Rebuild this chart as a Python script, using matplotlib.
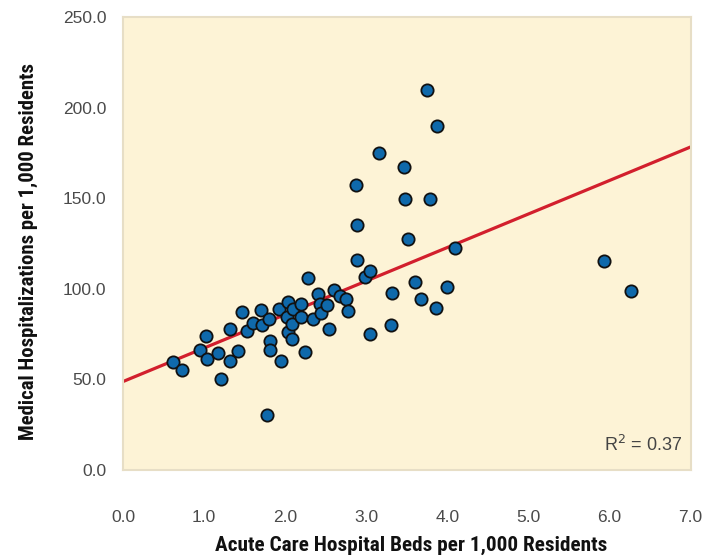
import matplotlib.pyplot as plt
import numpy as np
from matplotlib import font_manager

# beds per 1,000 residents vs. medical hospitalizations per 1,000 residents
beds = [0.62, 0.73, 0.95, 1.02, 1.03, 1.17, 1.21, 1.32, 1.32, 1.42,
        1.47, 1.53, 1.60, 1.70, 1.72, 1.77, 1.80, 1.81, 1.81, 1.92,
        1.95, 2.02, 2.03, 2.03, 2.08, 2.09, 2.10, 2.19, 2.20, 2.24,
        2.28, 2.34, 2.41, 2.43, 2.44, 2.52, 2.54, 2.60, 2.67, 2.75,
        2.77, 2.87, 2.88, 2.88, 2.98, 3.04, 3.05, 3.16, 3.30, 3.32,
        3.47, 3.48, 3.52, 3.60, 3.68, 3.75, 3.78, 3.86, 3.87, 3.99,
        4.10, 5.93, 6.26]
hosp = [59.5, 55.3, 66.0, 74.1, 61.4, 64.3, 50.4, 60.4, 77.6, 65.4,
        87.0, 76.5, 80.9, 88.5, 80.0, 30.5, 83.3, 71.0, 66.3, 88.7,
        60.0, 84.4, 92.7, 76.1, 80.8, 72.4, 89.1, 84.4, 91.8, 65.0,
        105.7, 83.1, 97.0, 91.8, 86.8, 91.3, 77.8, 99.6, 95.9, 94.6,
        87.8, 157.3, 135.3, 116.0, 106.6, 109.8, 74.8, 175.0, 79.8, 97.7,
        167.4, 149.5, 127.5, 103.7, 94.6, 209.5, 149.8, 89.6, 189.7, 100.9,
        122.3, 115.3, 98.8]

# trend line
intercept = 48.8
slope = 18.5
r_squared = 0.37

xticks = [0, 1, 2, 3, 4, 5, 6, 7]
yticks = [0, 50, 100, 150, 200, 250]


def first_font(names):
    for name in names:
        try:
            font_manager.findfont(name, fallback_to_default=False)
            return name
        except ValueError:
            continue
    return "Liberation Sans"


label_family = first_font(["Liberation Sans Narrow", "Arial Narrow",
                           "Roboto Condensed", "DejaVu Sans Condensed",
                           "Liberation Sans"])

fig = plt.figure(figsize=(7.17, 5.56), dpi=100)
ax = fig.add_axes([0.1715, 0.1547, 0.7918, 0.8147])
ax.set_facecolor("#FDF3D6")

xs = np.array([0, 7])
ax.plot(xs, intercept + slope * xs, color="#D21F2D", lw=2.3, zorder=2)
ax.scatter(beds, hosp, s=78, color="#0F69AB", edgecolors="#111111",
           linewidths=1.3, zorder=3)

ax.set_xlim(0, 7)
ax.set_ylim(0, 250)
ax.set_xticks(xticks)
ax.set_yticks(yticks)
ax.set_xticklabels([f"{v:.1f}" for v in xticks])
ax.set_yticklabels([f"{v:.1f}" for v in yticks])
ax.tick_params(length=0, labelsize=12.5, labelcolor="#4a4a4a")
ax.tick_params(axis="x", pad=29)
ax.tick_params(axis="y", pad=12)
for lab in ax.get_xticklabels() + ax.get_yticklabels():
    lab.set_family("Liberation Sans")

for sp in ax.spines.values():
    sp.set_color("#E7DEC6")
    sp.set_linewidth(1.5)

xl = ax.set_xlabel("Acute Care Hospital Beds per 1,000 Residents",
                   family=label_family, weight="bold", size=13.5, color="#111111")
yl = ax.set_ylabel("Medical Hospitalizations per 1,000 Residents",
                   family=label_family, weight="bold", size=13.5, color="#111111")
xl.set_va("center")
yl.set_va("center")
yl.set_ha("center")
ax.xaxis.set_label_coords(0.507, -0.166)
ax.yaxis.set_label_coords(-0.167, 0.483)

# size the axis titles to their run lengths (x: 392 px, y: 378 px)
renderer = fig.canvas.get_renderer()
w = xl.get_window_extent(renderer).width
xl.set_size(13.5 * 392 / w)
h = yl.get_window_extent(renderer).height
yl.set_size(13.5 * 378 / h)

ax.text(0.985, 0.055, f"R$^2$ = {r_squared:.2f}", transform=ax.transAxes,
        ha="right", va="center", fontsize=13, color="#444444",
        family="Liberation Sans")

fig.savefig("out.png", dpi=100)
